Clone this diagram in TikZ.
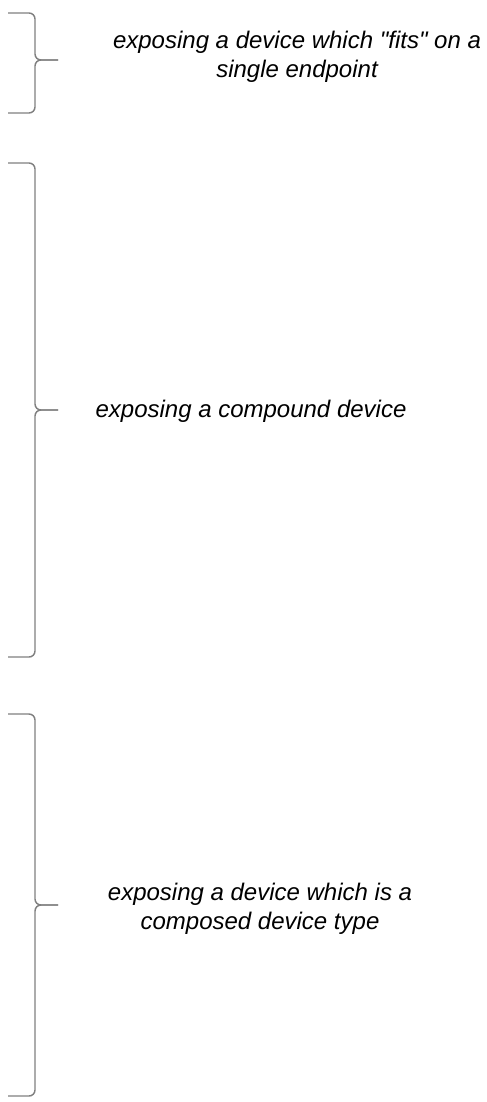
\documentclass[tikz,border=0pt]{standalone}
\usepackage{fontspec}
\setmainfont{Liberation Sans}[Ligatures=TeXOff]
\begin{document}
\begin{tikzpicture}[x=0.75pt,y=-0.75pt,
  bracestyle/.style={draw={rgb,255:red,128;green,128;blue,128},line width=1.1pt,rounded corners=4.5pt},
  label/.style={font=\fontsize{18}{21.5}\selectfont\itshape,align=center,text=black,inner sep=0pt}]
\useasboundingbox (0,0) rectangle (486,1102);
% brace 1
\path[bracestyle] (8,13) -- (35,13) -- (35,60) -- (58,60);
\path[bracestyle] (58,60) -- (35,60) -- (35,113) -- (8,113);
% brace 2
\path[bracestyle] (8,163) -- (35,163) -- (35,410) -- (58,410);
\path[bracestyle] (58,410) -- (35,410) -- (35,657) -- (8,657);
% brace 3
\path[bracestyle] (8,714) -- (35,714) -- (35,905) -- (58,905);
\path[bracestyle] (58,905) -- (35,905) -- (35,1096) -- (8,1096);
\node[label] (t1) at (297,57) {exposing a device which "fits" on a\\single endpoint};
\node[label] (t2) at (251,411) {exposing a compound device};
\node[label] (t3) at (260,909) {exposing a device which is a\\composed device type};
\end{tikzpicture}
\end{document}
